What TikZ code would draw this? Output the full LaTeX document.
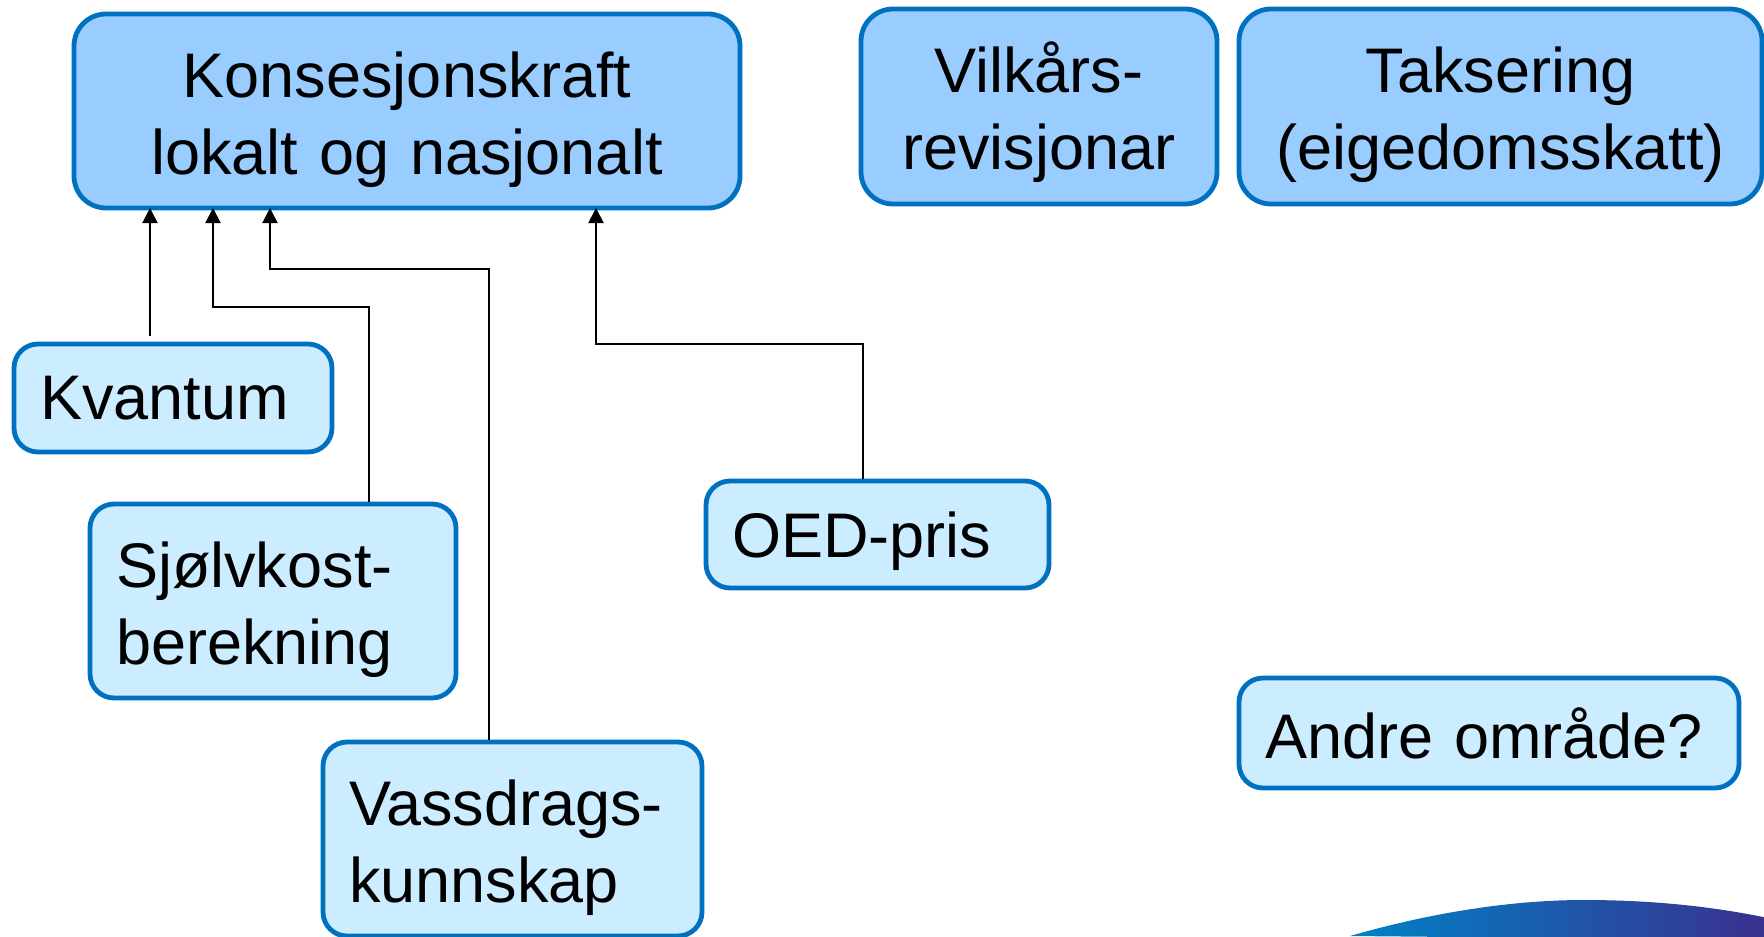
\documentclass[tikz,border=0pt]{standalone}
\usepackage{fontspec}
\setmainfont{Liberation Sans}
\usepackage{tikz}
\usetikzlibrary{
	arrows.meta,
	shapes,
}
\definecolor{boxline}{RGB}{0,112,192}
\definecolor{topfill}{RGB}{153,204,255}
\definecolor{subfill}{RGB}{204,236,255}
\definecolor{swooshleft}{RGB}{0,130,200}
\definecolor{swooshmid}{RGB}{12,78,162}
\definecolor{swooshright}{RGB}{58,48,142}
\newcommand{\tallstrut}{\rule{0pt}{31.5pt}}
\tikzset{
	topbox/.style={draw=boxline, line width=2.4pt, fill=topfill, rounded corners=16pt,
		inner xsep=6pt, inner ysep=0pt, align=center,
		font=\fontsize{31.5}{38.5}\selectfont},
	subbox/.style={draw=boxline, line width=2.4pt, fill=subfill, rounded corners=12pt,
		inner xsep=13pt, inner ysep=0pt, align=left,
		font=\fontsize{31.5}{38.5}\selectfont},
	link/.style={line width=1pt, -{Triangle[length=7.5pt,width=7.5pt]}},
}

\begin{document}
\begin{tikzpicture}[x=1pt,y=1pt]
	\useasboundingbox (0,0) rectangle (882,-468);
	\begin{scope}
		\clip (0,0) rectangle (882,-468);
		\shade[left color=swooshleft, middle color=swooshmid, right color=swooshright]
			(675,-468) .. controls (720,-455) and (760,-450) .. (792,-450)
			.. controls (830,-450) and (860,-454) .. (884,-459) -- (884,-470) -- cycle;
	\end{scope}

	\node[topbox, text width=321pt, minimum height=97pt] (konses) at (203.5,-55.5) {\tallstrut Konsesjonskraft\\lokalt og nasjonalt};
	\node[topbox, text width=166pt, minimum height=97.5pt] (vilkar) at (519.5,-53.25) {\tallstrut Vilkårs-\\revisjonar};
	\node[topbox, text width=249.5pt, minimum height=97.5pt] (takser) at (750.25,-53.25) {\tallstrut Taksering\\(eigedomsskatt)};

	\node[subbox, text width=133pt, minimum height=54pt, text depth=0pt] (kvantum) at (86.5,-199) {Kvantum};
	\node[subbox, text width=157pt, minimum height=97pt] (sjolv) at (136.5,-300.5) {\tallstrut Sjølvkost-\\berekning};
	\node[subbox, text width=163.5pt, minimum height=97pt] (vassd) at (256.25,-419.5) {\tallstrut Vassdrags-\\kunnskap};
	\node[subbox, text width=145.5pt, minimum height=53.5pt, text depth=0pt] (oed) at (438.75,-267.25) {OED-pris};
	\node[subbox, text width=224pt, minimum height=55pt, text depth=0pt] (andre) at (744.5,-366.5) {Andre område?};

	\coordinate (in1) at (75,-104);
	\coordinate (in2) at (106.5,-104);
	\coordinate (in3) at (135,-104);
	\coordinate (in4) at (298,-104);
	\coordinate (out2) at (184.5,-104);
	\coordinate (out3) at (244.5,-104);
	\coordinate (out4) at (431.5,-104);

	\draw[link] ([yshift=3pt]kvantum.north -| in1) -- (in1);
	\draw[link] (sjolv.north -| out2) -- ++(0,97.5) -| (in2);
	\draw[link] (vassd.north -| out3) -- ++(0,235.5) -| (in3);
	\draw[link] (oed.north -| out4) -- ++(0,67.25) -| (in4);
\end{tikzpicture}
\end{document}
